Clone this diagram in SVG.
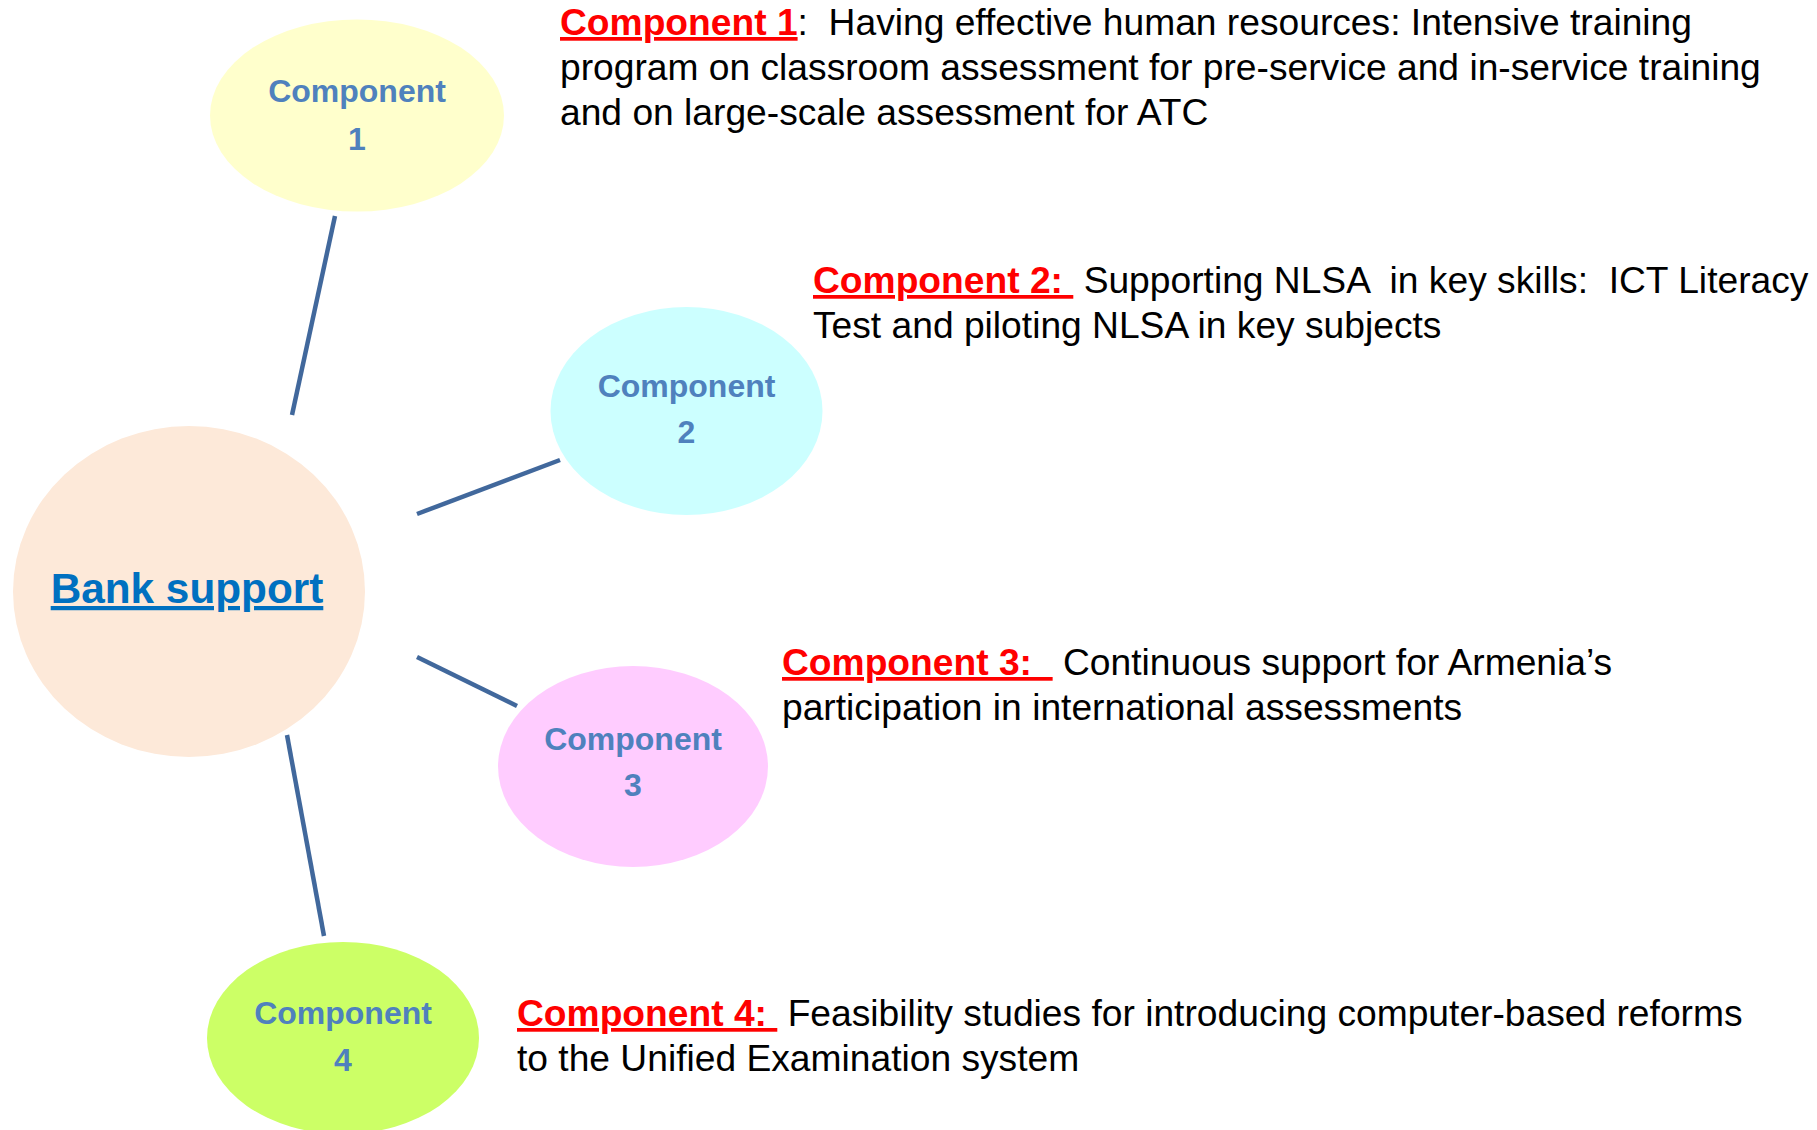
<svg xmlns="http://www.w3.org/2000/svg" width="1817" height="1130" viewBox="0 0 1817 1130">
<style>
.lbl{font-family:"Liberation Sans",Arial,sans-serif;font-weight:bold;font-size:32px;fill:#4F81BD;text-anchor:middle}
.bank{font-family:"Liberation Sans",Arial,sans-serif;font-weight:bold;font-size:42.3px;fill:#0070C0;text-anchor:middle;text-decoration:underline}
.desc{font-family:"Liberation Sans",Arial,sans-serif;font-size:37.2px;fill:#000000;white-space:pre}
.red{font-weight:bold;fill:#FF0000;text-decoration:underline}
.conn{stroke:#41689C;stroke-width:4.5;fill:none}
</style>
<rect width="1817" height="1130" fill="#FFFFFF"/>
<g id="connectors">
<line class="conn" x1="335" y1="216" x2="292" y2="415"/>
<line class="conn" x1="417" y1="514" x2="560" y2="460"/>
<line class="conn" x1="417" y1="657" x2="517" y2="706"/>
<line class="conn" x1="287" y1="735" x2="324" y2="936"/>
</g>
<g id="bank">
<ellipse cx="189" cy="591.5" rx="176" ry="165.5" fill="#FDE9D9"/>
<text class="bank" x="187" y="603">Bank support</text>
</g>
<g id="component1">
<ellipse cx="357" cy="115.5" rx="147" ry="96" fill="#FFFFCC"/>
<text class="lbl" x="357" y="102">Component</text>
<text class="lbl" x="357" y="150">1</text>
</g>
<g id="component2">
<ellipse cx="686.5" cy="411" rx="136" ry="104" fill="#CCFFFF"/>
<text class="lbl" x="686.5" y="397">Component</text>
<text class="lbl" x="686.5" y="443">2</text>
</g>
<g id="component3">
<ellipse cx="633" cy="766.5" rx="135" ry="100.5" fill="#FFCCFF"/>
<text class="lbl" x="633" y="750">Component</text>
<text class="lbl" x="633" y="796">3</text>
</g>
<g id="component4">
<ellipse cx="343" cy="1038" rx="136" ry="96" fill="#CCFF66"/>
<text class="lbl" x="343" y="1024">Component</text>
<text class="lbl" x="343" y="1071">4</text>
</g>
<g id="desc1">
<text class="desc" x="560" y="35"><tspan class="red">Component 1</tspan>:  Having effective human resources: Intensive training</text>
<text class="desc" x="560" y="80">program on classroom assessment for pre-service and in-service training</text>
<text class="desc" x="560" y="125">and on large-scale assessment for ATC</text>
</g>
<g id="desc2">
<text class="desc" x="813" y="293"><tspan class="red">Component 2: </tspan> Supporting NLSA  in key skills:  ICT Literacy</text>
<text class="desc" x="813" y="338">Test and piloting NLSA in key subjects</text>
</g>
<g id="desc3">
<text class="desc" x="782" y="675"><tspan class="red">Component 3:  </tspan> Continuous support for Armenia’s</text>
<text class="desc" x="782" y="720">participation in international assessments</text>
</g>
<g id="desc4">
<text class="desc" x="517" y="1026"><tspan class="red">Component 4: </tspan> Feasibility studies for introducing computer-based reforms</text>
<text class="desc" x="517" y="1071">to the Unified Examination system</text>
</g>
</svg>
